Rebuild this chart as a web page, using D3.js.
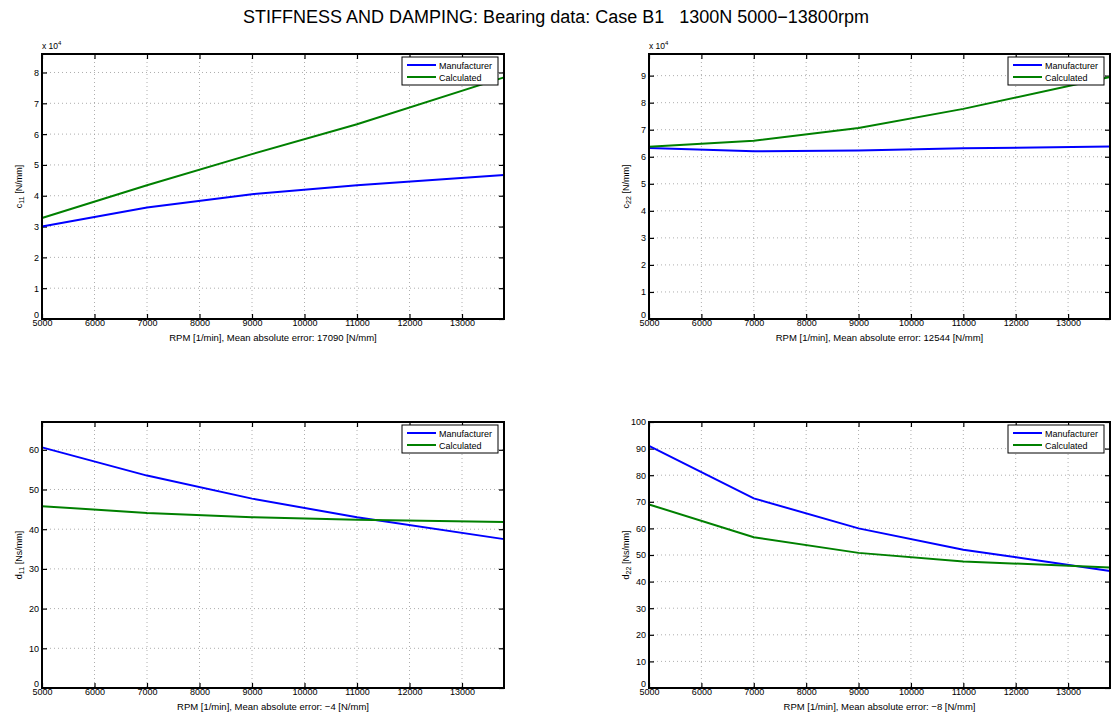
<!DOCTYPE html>
<html>
<head>
<meta charset="utf-8">
<script src="https://cdn.jsdelivr.net/npm/d3@7"></script>
<style>
  body { margin: 0; background: #fff; }
  svg { font-family: "Liberation Sans", Arial, sans-serif; }
</style>
</head>
<body>
<svg id="chart" width="1112" height="720"></svg>
<script>
// rpm points used by every panel
var rpm = [5000, 7000, 9000, 11000, 13800];
var xTicks = [5000, 6000, 7000, 8000, 9000, 10000, 11000, 12000, 13000];
var seriesNames = ["Manufacturer", "Calculated"];
var seriesColors = ["#0000ff", "#008000"];

// stiffness in units of 1e4 N/mm
var c11Manufacturer = [3.0, 3.62, 4.05, 4.34, 4.67];
var c11Calculated = [3.28, 4.34, 5.35, 6.32, 7.84];
var c22Manufacturer = [6.32, 6.2, 6.23, 6.31, 6.38];
var c22Calculated = [6.37, 6.59, 7.06, 7.77, 8.95];
// damping in Ns/mm
var d11Manufacturer = [60.6, 53.5, 47.7, 43.0, 37.5];
var d11Calculated = [45.8, 44.1, 43.0, 42.4, 41.8];
var d22Manufacturer = [91, 71.3, 60, 52, 44];
var d22Calculated = [69, 56.7, 50.8, 47.6, 45.3];

var panels = [
  {box: [42, 54, 504, 319], ymax: 8.6, yTicks: d3.range(0, 9), ylabel: ["c", "11", " [N/mm]"], exp: true,
   xlabel: "RPM [1/min], Mean absolute error: 17090 [N/mm]", data: [c11Manufacturer, c11Calculated]},
  {box: [649, 54, 1110, 319], ymax: 9.8, yTicks: d3.range(0, 10), ylabel: ["c", "22", " [N/mm]"], exp: true,
   xlabel: "RPM [1/min], Mean absolute error: 12544 [N/mm]", data: [c22Manufacturer, c22Calculated]},
  {box: [42, 422, 504, 688], ymax: 67, yTicks: d3.range(0, 70, 10), ylabel: ["d", "11", " [Ns/mm]"], exp: false,
   xlabel: "RPM [1/min], Mean absolute error: \u22124 [N/mm]", data: [d11Manufacturer, d11Calculated]},
  {box: [649, 422, 1110, 688], ymax: 100, yTicks: d3.range(0, 110, 10), ylabel: ["d", "22", " [Ns/mm]"], exp: false,
   xlabel: "RPM [1/min], Mean absolute error: \u22128 [N/mm]", data: [d22Manufacturer, d22Calculated]}
];

var svg = d3.select("#chart");

svg.append("text")
  .attr("x", 556).attr("y", 23)
  .attr("text-anchor", "middle")
  .attr("font-size", 18)
  .style("white-space", "pre")
  .text("STIFFNESS AND DAMPING: Bearing data: Case B1   1300N 5000\u221213800rpm");

panels.forEach(function(p) {
  var x0 = p.box[0], y0 = p.box[1], x1 = p.box[2], y1 = p.box[3];
  var x = d3.scaleLinear().domain([5000, 13800]).range([x0, x1]);
  var y = d3.scaleLinear().domain([0, p.ymax]).range([y1, y0]);
  var g = svg.append("g");

  // grid
  g.selectAll(".vg").data(xTicks.slice(1)).enter().append("line")
    .attr("x1", d => x(d)).attr("x2", d => x(d))
    .attr("y1", y0).attr("y2", y1)
    .attr("stroke", "#999").attr("stroke-width", 0.8).attr("stroke-dasharray", "1,3");
  g.selectAll(".hg").data(p.yTicks.slice(1)).enter().append("line")
    .attr("x1", x0).attr("x2", x1)
    .attr("y1", d => y(d)).attr("y2", d => y(d))
    .attr("stroke", "#999").attr("stroke-width", 0.8).attr("stroke-dasharray", "1,3");

  // axes, ticks pointing inwards, mirrored on top and right
  var fmt = d3.format("d");
  var bottom = d3.axisBottom(x).tickValues(xTicks).tickSizeInner(-5).tickSizeOuter(0).tickPadding(1).tickFormat(fmt);
  var top = d3.axisTop(x).tickValues(xTicks).tickSizeInner(-5).tickSizeOuter(0).tickFormat("");
  var left = d3.axisLeft(y).tickValues(p.yTicks).tickSizeInner(-5).tickSizeOuter(0).tickPadding(3).tickFormat(fmt);
  var right = d3.axisRight(y).tickValues(p.yTicks).tickSizeInner(-5).tickSizeOuter(0).tickFormat("");

  [[bottom, "translate(0," + y1 + ")"], [top, "translate(0," + y0 + ")"],
   [left, "translate(" + x0 + ",0)"], [right, "translate(" + x1 + ",0)"]].forEach(function(a) {
    var ag = g.append("g").attr("transform", a[1]).call(a[0]);
    ag.select(".domain").remove();
    ag.selectAll("line").attr("stroke", "#000").attr("stroke-width", 1.2);
    ag.selectAll("text").attr("font-size", 9).attr("fill", "#000")
      .attr("font-family", "Liberation Sans, Arial, sans-serif");
    // matlab lifts the zero label of the y axis clear of the x labels
    if (a[0] === left) ag.selectAll("text").filter(d => d === 0).attr("dy", "-0.2em");
  });

  // lines
  var line = d3.line().x((d, i) => x(rpm[i])).y(d => y(d));
  p.data.forEach(function(s, k) {
    g.append("path").datum(s)
      .attr("d", line)
      .attr("fill", "none")
      .attr("stroke", seriesColors[k])
      .attr("stroke-width", 2);
  });

  // axes box
  g.append("rect")
    .attr("x", x0).attr("y", y0).attr("width", x1 - x0).attr("height", y1 - y0)
    .attr("fill", "none").attr("stroke", "#000").attr("stroke-width", 2);

  // x label
  g.append("text")
    .attr("x", (x0 + x1) / 2).attr("y", y1 + 22)
    .attr("text-anchor", "middle").attr("font-size", 9.5)
    .text(p.xlabel);

  // y label with subscript
  var yl = g.append("text")
    .attr("transform", "translate(" + (x0 - 20) + "," + ((y0 + y1) / 2) + ") rotate(-90)")
    .attr("text-anchor", "middle").attr("font-size", 9);
  yl.append("tspan").text(p.ylabel[0]);
  yl.append("tspan").attr("font-size", 7).attr("dy", 2).text(p.ylabel[1]);
  yl.append("tspan").attr("dy", -2).text(p.ylabel[2]);

  // exponent marker
  if (p.exp) {
    var ex = g.append("text").attr("x", x0).attr("y", y0 - 5).attr("font-size", 8.5);
    ex.append("tspan").text("x 10");
    ex.append("tspan").attr("font-size", 6).attr("dy", -4).text("4");
  }

  // legend
  var lw = 96, lh = 28;
  var lx = x1 - 6 - lw, ly = y0 + 3;
  var lg = g.append("g").attr("transform", "translate(" + lx + "," + ly + ")");
  lg.append("rect").attr("width", lw).attr("height", lh)
    .attr("fill", "#fff").attr("stroke", "#000").attr("stroke-width", 1);
  seriesNames.forEach(function(n, k) {
    var yy = 8 + k * 12;
    lg.append("line").attr("x1", 5).attr("x2", 34).attr("y1", yy).attr("y2", yy)
      .attr("stroke", seriesColors[k]).attr("stroke-width", 2);
    lg.append("text").attr("x", 37).attr("y", yy + 3.5).attr("font-size", 9).text(n);
  });
});
</script>
</body>
</html>
